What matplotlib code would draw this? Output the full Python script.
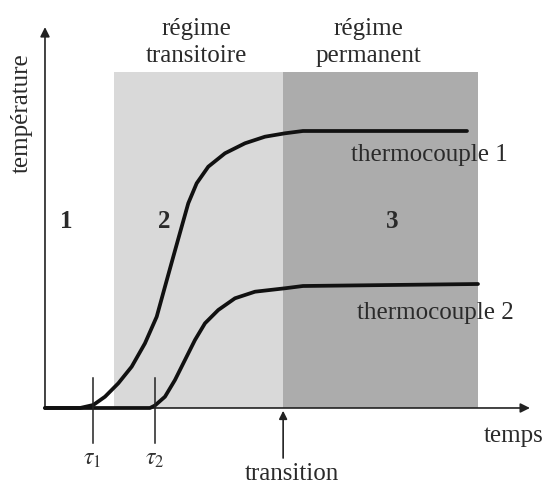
#!/usr/bin/env python3
"""
Schematic of thermocouple temperatures vs time: transient and steady regimes.
"""
import matplotlib
matplotlib.use('Agg')
import matplotlib.pyplot as plt

# time (arbitrary units) and temperature (arbitrary units)
t_tc1 = [0, 8.1, 11.15, 13.86, 16.93, 20.02, 23.09, 25.80, 27.71, 29.63,
         31.57, 33.09, 35.03, 37.71, 41.57, 46.19, 50.81, 55.43, 59.58, 97.46]
T_tc1 = [0, 0, 1.08, 4.06, 8.88, 14.86, 23.27, 32.84, 43.63, 54.42,
         65.22, 73.63, 80.83, 86.80, 91.62, 95.22, 97.59, 98.81, 99.64, 99.64]

t_tc2 = [0, 24.25, 25.40, 27.71, 30.02, 32.33, 34.64, 36.95, 40.02, 43.88,
         48.50, 55.43, 59.58, 100]
T_tc2 = [0, 0, 0.9, 4.06, 10.07, 17.27, 24.46, 30.47, 35.25, 39.46,
         41.83, 43.06, 43.88, 44.60]

tau1 = 11
tau2 = 25.5
t_start_transient = 16
t_transition = 55
t_end = 100
T_zone_top = 121

zone_labels = ['1', '2', '3']
regime_labels = ['régime\ntransitoire', 'régime\npermanent']

plt.rcParams['font.family'] = ['Liberation Serif', 'DejaVu Serif']
plt.rcParams['mathtext.fontset'] = 'stix'

fig = plt.figure(figsize=(5.47, 4.93), dpi=100)
ax = fig.add_axes([0, 0, 1, 1])
ax.set_xlim(-10.39, 115.94)
ax.set_ylim(-30.58, 146.76)
ax.axis('off')

# shaded regimes
ax.fill_between([t_start_transient, t_transition], 0, T_zone_top,
                color='#d9d9d9', lw=0, zorder=0)
ax.fill_between([t_transition, t_end], 0, T_zone_top,
                color='#acacac', lw=0, zorder=0)

# axes arrows
ax.annotate('', xy=(112, 0), xytext=(0, 0),
            arrowprops=dict(arrowstyle='-|>', color='#222222', lw=1.2,
                            mutation_scale=14, shrinkA=0, shrinkB=0))
ax.annotate('', xy=(0, 137), xytext=(0, 0),
            arrowprops=dict(arrowstyle='-|>', color='#222222', lw=1.2,
                            mutation_scale=14, shrinkA=0, shrinkB=0))

# curves
ax.plot(t_tc1, T_tc1, color='#111111', lw=2.7, solid_capstyle='round',
        solid_joinstyle='round', zorder=3)
ax.plot(t_tc2, T_tc2, color='#111111', lw=2.7, solid_capstyle='round',
        solid_joinstyle='round', zorder=3)

# tau ticks
for tau, lab in [(tau1, r'$\tau_1$'), (tau2, r'$\tau_2$')]:
    ax.plot([tau, tau], [10.8, -12.6], color='#222222', lw=1.1, zorder=4)
    ax.text(tau - 0.2, -18.7, lab, ha='center', va='center', fontsize=17,
            color='#333333')

# transition arrow
ax.annotate('', xy=(t_transition, -1), xytext=(t_transition, -18),
            arrowprops=dict(arrowstyle='-|>', color='#222222', lw=1.2,
                            mutation_scale=12, shrinkA=0, shrinkB=0))

fs = 18
txt = '#2a2a2a'
ax.text(57, -23.7, 'transition', ha='center', va='center', fontsize=fs, color=txt)
ax.text(108.3, -10.1, 'temps', ha='center', va='center', fontsize=fs, color=txt)
ax.text(-5.3, 106, 'température', ha='center', va='center', fontsize=fs,
        rotation=90, color=txt)
ax.text(34.9, 131.5, regime_labels[0], ha='center', va='center', fontsize=fs,
        linespacing=1.25, color=txt)
ax.text(74.8, 131.5, regime_labels[1], ha='center', va='center', fontsize=fs,
        linespacing=1.25, color=txt)
ax.text(88.7, 91, 'thermocouple 1', ha='center', va='center', fontsize=fs, color=txt)
ax.text(90.1, 34.2, 'thermocouple 2', ha='center', va='center', fontsize=fs, color=txt)

for x, lab in zip([4.85, 27.5, 80.1], zone_labels):
    ax.text(x, 67, lab, ha='center', va='center', fontsize=fs,
            fontweight='bold', color=txt)

fig.savefig('out.png', dpi=100)
